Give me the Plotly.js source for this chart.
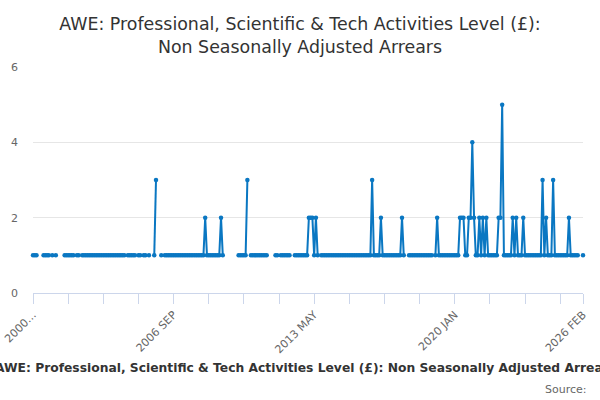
<!DOCTYPE html>
<html>
<head>
<meta charset="utf-8">
<script src="https://cdn.plot.ly/plotly-3.0.1.min.js"></script>
<style>html,body{margin:0;padding:0;background:#fff;}#chart{width:600px;height:400px;}</style>
</head>
<body>
<div id="chart"></div>
<script>
// Monthly categories: 2000 JAN ... 2026 FEB
var monthNames = ["JAN","FEB","MAR","APR","MAY","JUN","JUL","AUG","SEP","OCT","NOV","DEC"];
var startYear = 2000;
var pointCount = 314;
var categories = [];
for (var i = 0; i < pointCount; i++) {
  categories.push((startYear + Math.floor(i / 12)) + " " + monthNames[i % 12]);
}

var n = null;
// Arrears level (£); null = no value
var values = [
  1,1,1,n,n,n,1,1,1,1,n,1,n,1,n,n,n,n,1,1,
  1,1,1,1,n,1,1,n,1,1,1,1,1,1,1,1,1,1,1,1,
  1,1,1,1,1,1,1,1,1,1,1,1,1,n,1,1,1,1,1,n,
  1,1,n,1,1,n,1,n,n,1,3,n,n,1,n,1,1,1,1,1,
  1,1,1,1,1,1,1,1,1,1,1,1,1,1,1,1,1,1,2,1,
  1,1,1,1,1,1,1,2,1,n,n,n,n,n,n,n,n,1,1,1,
  1,1,3,n,1,1,1,1,1,1,1,1,1,1,n,n,n,n,1,1,
  n,1,1,1,1,1,1,n,n,1,1,1,1,1,1,1,1,2,2,2,
  1,2,1,n,1,1,1,1,1,1,1,1,1,1,1,1,1,1,1,1,
  1,1,1,1,1,1,1,1,1,1,1,1,1,3,1,1,1,1,2,1,
  1,1,1,1,1,1,1,1,1,1,2,1,n,n,1,1,1,1,1,1,
  1,1,1,1,1,1,1,1,n,1,2,1,1,1,1,1,1,1,1,1,
  1,1,1,2,2,2,1,1,2,2,4,2,1,1,2,1,2,1,2,1,
  1,1,1,1,1,2,2,5,1,1,1,1,1,2,1,2,1,1,1,2,
  1,1,1,1,1,1,1,1,1,1,3,1,2,1,1,1,3,1,1,1,
  1,1,1,1,1,2,1,1,1,1,1,n,n,1
];

var tickIdx = [0,20,40,60,80,100,120,140,160,180,200,220,240,260,280,300,313];
var labelMap = {0:"2000\u2026", 80:"2006 SEP", 160:"2013 MAY", 240:"2020 JAN", 313:"2026 FEB"};
var yTicks = [0,2,4,6];

var tickVals = tickIdx.map(function(k){ return categories[k]; });
var tickText = tickIdx.map(function(k){ return labelMap[k] || ""; });

var seriesName = "AWE: Professional, Scientific & Tech Activities Level (£): Non Seasonally Adjusted Arrears";
var lineColor = "#0a77c2";

var trace = {
  type: "scatter",
  mode: "lines+markers",
  x: categories,
  y: values,
  connectgaps: false,
  cliponaxis: false,
  line: {color: lineColor, width: 2},
  marker: {color: lineColor, size: 4.5},
  hoverinfo: "x+y"
};

var font = "DejaVu Sans, Verdana, sans-serif";
var layout = {
  width: 600, height: 400,
  margin: {l: 33, r: 17, t: 67, b: 107},
  paper_bgcolor: "#fff", plot_bgcolor: "#fff",
  showlegend: false,
  font: {family: font, color: "#666", size: 11},
  title: {
    text: "AWE: Professional, Scientific &amp; Tech Activities Level (£):<br>Non Seasonally Adjusted Arrears",
    font: {family: font, size: 17.4, color: "#333"},
    x: 0.5, xref: "container", xanchor: "center",
    y: 0.9245, yref: "container", yanchor: "top"
  },
  xaxis: {
    type: "category",
    range: [0, pointCount - 1],
    tickmode: "array",
    tickvals: tickVals,
    ticktext: tickText,
    tickangle: -45,
    ticks: "outside", ticklen: 10, tickcolor: "#ccd6eb", tickwidth: 1,
    showline: true, linecolor: "#ccd6eb", linewidth: 1,
    showgrid: false, zeroline: false,
    tickfont: {family: font, size: 11, color: "#666"},
    fixedrange: true
  },
  yaxis: {
    range: [0, 6],
    tickmode: "array",
    tickvals: yTicks,
    ticktext: yTicks.map(String),
    showgrid: true, gridcolor: "#e6e6e6", gridwidth: 1,
    zeroline: false, showline: false,
    ticks: "",
    ticklabelstandoff: 14,
    tickfont: {family: font, size: 11, color: "#666"},
    fixedrange: true
  },
  annotations: [
    {
      text: "<b>" + seriesName.replace("&", "&amp;") + "</b>",
      xref: "paper", yref: "paper",
      x: (305 - 33) / 550, y: (293 - 368) / 226,
      xanchor: "center", yanchor: "middle",
      showarrow: false,
      font: {family: font, size: 12.3, color: "#333"}
    },
    {
      text: "Source:",
      xref: "paper", yref: "paper",
      x: (589 - 33) / 550, y: (293 - 389) / 226,
      xanchor: "right", yanchor: "middle",
      showarrow: false,
      font: {family: font, size: 11, color: "#666"}
    }
  ]
};

Plotly.newPlot("chart", [trace], layout, {displayModeBar: false, staticPlot: true});
</script>
</body>
</html>
